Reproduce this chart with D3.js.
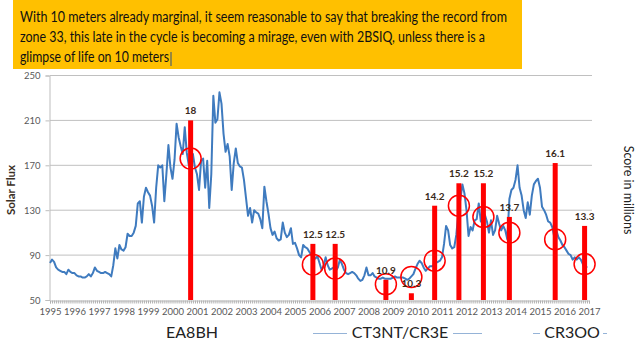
<!DOCTYPE html>
<html>
<head>
<meta charset="utf-8">
<script src="https://cdnjs.cloudflare.com/ajax/libs/d3/7.8.5/d3.min.js"></script>
<style>
  body { margin: 0; background: #fff; }
  svg { display: block; font-family: Lato, "Open Sans", sans-serif; }
</style>
</head>
<body>
<div id="chart"></div>
<script>
/* data */
var titleLines = [
  "With 10 meters already marginal, it seem reasonable to say that breaking the record from",
  "zone 33, this late in the cycle is becoming a mirage, even with 2BSIQ, unless there is a",
  "glimpse of life on 10 meters"
];
var titleWidths = [487, 465, 149];

var years = d3.range(1995, 2018);
var fluxTicks = [50, 90, 130, 170, 210, 250];

// monthly solar flux, Jan 1995 .. Dec 2016, one row per year
var fluxByYear = [
  [83, 86, 84, 79, 77, 76, 75, 75, 73, 77, 75, 74],
  [74, 72, 71, 71, 70, 70, 71, 73, 71, 74, 79, 76],
  [75, 74, 74, 75, 74, 73, 71, 81, 96, 87, 99, 95],
  [94, 97, 109, 107, 107, 110, 116, 136, 138, 119, 142, 150],
  [146, 143, 134, 119, 150, 170, 168, 170, 138, 162, 188, 168],
  [158, 175, 207, 195, 187, 180, 204, 181, 170, 172, 180, 168],
  [162, 148, 174, 176, 150, 174, 132, 162, 232, 208, 211, 235],
  [225, 198, 182, 189, 178, 148, 172, 185, 172, 169, 168, 157],
  [141, 125, 132, 119, 130, 128, 127, 122, 114, 151, 138, 127],
  [114, 108, 111, 105, 103, 104, 119, 110, 106, 108, 114, 100],
  [101, 96, 90, 88, 99, 97, 96, 93, 90, 86, 87, 89],
  [83, 77, 80, 88, 81, 77, 78, 79, 76, 79, 86, 82],
  [77, 74, 73, 74, 75, 74, 72, 69, 67, 68, 72, 79],
  [72, 72, 74, 71, 70, 69, 69, 70, 69, 69, 69, 69],
  [70, 71, 70, 70, 70, 70, 69, 68, 69, 71, 73, 78],
  [82, 85, 83, 79, 76, 78, 80, 80, 81, 83, 84, 85],
  [88, 100, 116, 112, 99, 96, 97, 108, 127, 140, 153, 145],
  [130, 107, 115, 112, 121, 122, 136, 120, 123, 126, 120, 110],
  [121, 108, 112, 125, 118, 112, 116, 112, 104, 140, 148, 150],
  [157, 170, 150, 143, 130, 123, 137, 126, 143, 153, 156, 158],
  [150, 133, 130, 126, 120, 119, 115, 106, 112, 106, 103, 99],
  [97, 94, 91, 90, 86, 88, 86, 88, 86, 82, 77, 80]
];

// contest entries: date (decimal year), score in millions, flux where the circle sits
var scoreDates = [2000.74, 2005.73, 2006.64, 2008.71, 2009.75, 2010.70, 2011.69, 2012.69, 2013.75, 2015.62, 2016.82];
var scores = [18, 12.5, 12.5, 10.9, 10.3, 14.2, 15.2, 15.2, 13.7, 16.1, 13.3];
var circleFlux = [176, 81.5, 78, 64, 70.5, 85, 134, 124, 110, 104, 82];

var legendNames = ["EA8BH", "CT3NT/CR3E", "CR3OO"];

/* build */
var flux = [];
fluxByYear.forEach(function(row, i) {
  row.forEach(function(v, m) {
    flux.push({date: 1995 + i + m / 12, value: v});
  });
});
var entries = scores.map(function(s, i) {
  return {date: scoreDates[i], score: s, flux: circleFlux[i]};
});

var width = 640, height = 342;

var svg = d3.select("#chart").append("svg")
  .attr("width", width)
  .attr("height", height);

svg.append("rect").attr("width", width).attr("height", height).attr("fill", "#fff");

/* title box */
svg.append("rect")
  .attr("x", 13).attr("y", 0)
  .attr("width", 509).attr("height", 69)
  .attr("fill", "#ffc000");

svg.selectAll(".title-line")
  .data(titleLines).enter()
  .append("text")
  .attr("class", "title-line")
  .attr("x", 20)
  .attr("y", (d, i) => 21.5 + i * 20.3)
  .attr("font-size", "14.5px")
  .attr("textLength", (d, i) => titleWidths[i])
  .attr("lengthAdjust", "spacingAndGlyphs")
  .attr("fill", "#111")
  .text(d => d);

// text cursor after last line
svg.append("line")
  .attr("x1", 171).attr("x2", 171)
  .attr("y1", 52).attr("y2", 66)
  .attr("stroke", "#2f4f7f").attr("stroke-width", 1);

/* scales */
var xScale = d3.scaleLinear().domain([1995, 2017]).range([50, 589]);
var yScale = d3.scaleLinear().domain([50, 250]).range([300, 75.5]);
var y2Scale = d3.scaleLinear().domain([10, 20]).range([300, 75.5]);

/* gridlines */
svg.append("g")
  .selectAll("line")
  .data(fluxTicks.slice(1)).enter()
  .append("line")
  .attr("x1", 50).attr("x2", 592)
  .attr("y1", d => yScale(d)).attr("y2", d => yScale(d))
  .attr("stroke", "#c0c0c0").attr("stroke-width", 1);

/* y axis */
var yAxis = svg.append("g")
  .attr("transform", "translate(49.5,0)")
  .call(d3.axisLeft(yScale).tickValues(fluxTicks).tickSize(4).tickPadding(5));
yAxis.select(".domain").attr("stroke", "#bdbdbd");
yAxis.selectAll(".tick line").attr("stroke", "#bdbdbd");
yAxis.selectAll("text").attr("font-size", "9.5px").attr("fill", "#595959")
  .attr("font-family", "Lato, sans-serif");

/* x axis: monthly minor ticks, yearly labels */
var months = d3.range(0, 22 * 12 + 1).map(i => 1995 + i / 12);
var xMinor = svg.append("g")
  .attr("transform", "translate(0,300.5)")
  .call(d3.axisBottom(xScale).tickValues(months).tickSize(3).tickFormat(""));
xMinor.select(".domain").attr("stroke", "#bdbdbd");
xMinor.selectAll(".tick line").attr("stroke", "#b0b0b0");

var xLabels = svg.append("g")
  .attr("transform", "translate(0,300.5)")
  .call(d3.axisBottom(xScale).tickValues(years).tickSize(0).tickPadding(8).tickFormat(d3.format("d")));
xLabels.select(".domain").remove();
xLabels.selectAll("text").attr("font-size", "9.5px").attr("fill", "#595959")
  .attr("font-family", "Lato, sans-serif");

/* solar flux line */
var line = d3.line()
  .x(d => xScale(d.date))
  .y(d => yScale(d.value));

svg.append("path")
  .datum(flux)
  .attr("d", line)
  .attr("fill", "none")
  .attr("stroke", "#3f7bbf")
  .attr("stroke-width", 2)
  .attr("stroke-linejoin", "round");

/* score bars */
svg.append("g")
  .selectAll("rect")
  .data(entries).enter()
  .append("rect")
  .attr("x", d => xScale(d.date) - 2.5)
  .attr("width", 5)
  .attr("y", d => y2Scale(d.score))
  .attr("height", d => y2Scale(10) - y2Scale(d.score))
  .attr("fill", "#ff0000");

/* circles round the flux at each entry */
svg.append("g")
  .selectAll("circle")
  .data(entries).enter()
  .append("circle")
  .attr("cx", d => xScale(d.date))
  .attr("cy", d => yScale(d.flux))
  .attr("r", 10.5)
  .attr("fill", "none")
  .attr("stroke", "#ff0000")
  .attr("stroke-width", 1.5);

/* bar labels */
svg.append("g")
  .selectAll("text")
  .data(entries).enter()
  .append("text")
  .attr("x", d => xScale(d.date))
  .attr("y", d => y2Scale(d.score) - 6)
  .attr("text-anchor", "middle")
  .attr("font-size", "10px")
  .attr("font-weight", "bold")
  .attr("fill", "#3a2a1a")
  .text(d => d.score);

/* axis titles */
svg.append("text")
  .attr("transform", "translate(15,190) rotate(-90)")
  .attr("text-anchor", "middle")
  .attr("font-size", "11.5px")
  .attr("font-weight", "bold")
  .attr("fill", "#3b3026")
  .text("Solar Flux");

svg.append("text")
  .attr("transform", "translate(624,190) rotate(90)")
  .attr("text-anchor", "middle")
  .attr("font-size", "12.5px")
  .attr("fill", "#222")
  .text("Score in millions");

/* legend */
var legendX = [192, 400, 572];
svg.selectAll(".legend-text")
  .data(legendNames).enter()
  .append("text")
  .attr("class", "legend-text")
  .attr("x", (d, i) => legendX[i])
  .attr("y", 338)
  .attr("text-anchor", "middle")
  .attr("font-size", "16px")
  .attr("fill", "#222")
  .text(d => d);

var legendSegs = [[313, 347], [453, 482], [533, 540], [603, 607]];
svg.append("g")
  .selectAll("line")
  .data(legendSegs).enter()
  .append("line")
  .attr("x1", d => d[0]).attr("x2", d => d[1])
  .attr("y1", 333.5).attr("y2", 333.5)
  .attr("stroke", "#95b3d7").attr("stroke-width", 1);
</script>
</body>
</html>
